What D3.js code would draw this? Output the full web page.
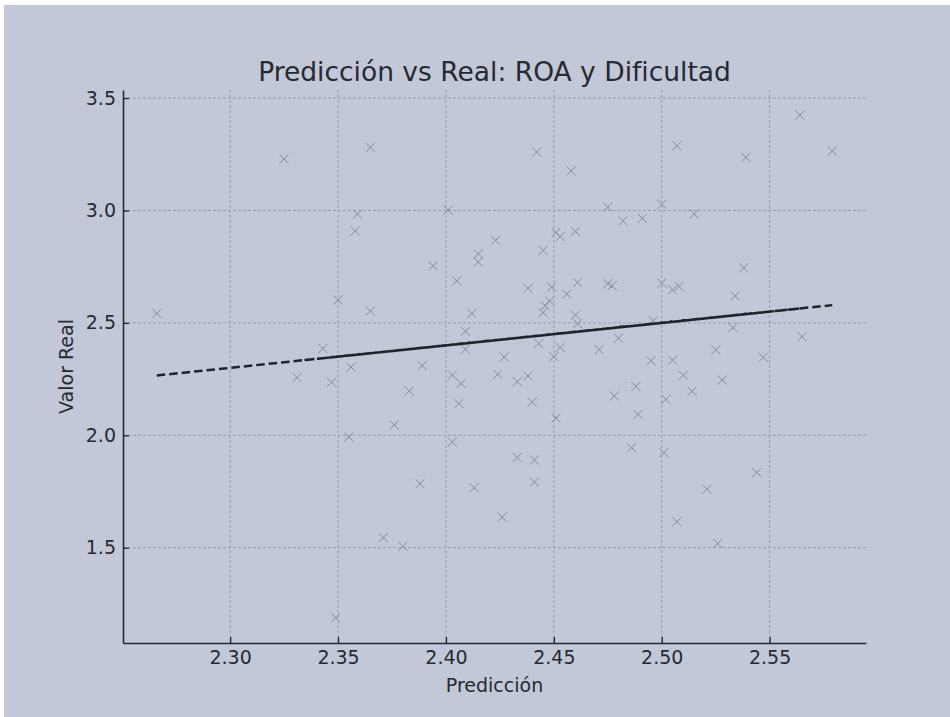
<!DOCTYPE html>
<html lang="es">
    <head>
        <meta charset="utf-8">
        <title>Predicción vs Real</title>
        <script src="https://d3js.org/d3.v7.min.js"></script>
        <style type="text/css">
            html, body { margin: 0; padding: 0; background: #ffffff; overflow: hidden; }
            svg { display: block; }
            text { font-family: "DejaVu Sans", sans-serif; fill: #262a33; }
        </style>
    </head>
    <body>
        <script>
            // data (order kept as read, the y = x line is drawn through it)
            var predicted = [2.266, 2.325, 2.427, 2.365, 2.491, 2.388, 2.453, 2.488, 2.349, 2.534,
                2.445, 2.383, 2.521, 2.405, 2.380, 2.507, 2.443, 2.331, 2.403, 2.505,
                2.445, 2.547, 2.359, 2.424, 2.486, 2.461, 2.480, 2.458, 2.441, 2.343,
                2.526, 2.475, 2.440, 2.500, 2.475, 2.471, 2.358, 2.514, 2.433, 2.415,
                2.500, 2.347, 2.505, 2.448, 2.525, 2.403, 2.365, 2.544, 2.426, 2.460,
                2.538, 2.412, 2.376, 2.355, 2.528, 2.438, 2.539, 2.409, 2.413, 2.356,
                2.489, 2.460, 2.496, 2.433, 2.401, 2.564, 2.453, 2.350, 2.482, 2.394,
                2.371, 2.502, 2.456, 2.406, 2.533, 2.451, 2.389, 2.507, 2.477, 2.441,
                2.442, 2.515, 2.415, 2.495, 2.450, 2.508, 2.449, 2.438, 2.501, 2.461,
                2.478, 2.423, 2.407, 2.451, 2.510, 2.446, 2.409, 2.565, 2.579];
            var actual = [2.542, 3.229, 2.348, 2.553, 2.965, 1.785, 2.884, 2.217, 1.188, 2.620,
                2.546, 2.197, 1.760, 2.687, 1.506, 3.288, 2.408, 2.257, 1.970, 2.647,
                2.822, 2.347, 2.984, 2.271, 1.945, 2.680, 2.432, 3.176, 1.792, 2.386,
                1.519, 2.674, 2.148, 2.677, 3.015, 2.381, 2.909, 2.196, 1.901, 2.807,
                3.027, 2.235, 2.334, 2.598, 2.380, 2.268, 3.281, 1.834, 1.636, 2.907,
                2.745, 2.542, 2.046, 1.992, 2.246, 2.654, 3.236, 2.383, 1.767, 2.303,
                2.093, 2.535, 2.509, 2.239, 3.002, 3.424, 2.390, 2.602, 2.954, 2.754,
                1.545, 2.160, 2.628, 2.141, 2.479, 2.902, 2.310, 1.616, 2.665, 1.890,
                3.260, 2.985, 2.771, 2.331, 2.350, 2.662, 2.660, 2.264, 1.923, 2.497,
                2.175, 2.867, 2.230, 2.077, 2.267, 2.576, 2.462, 2.439, 3.265];

            var xTicks = [2.30, 2.35, 2.40, 2.45, 2.50, 2.55];
            var yTicks = [1.5, 2.0, 2.5, 3.0, 3.5];

            var titleText = "Predicción vs Real: ROA y Dificultad";
            var xLabel = "Predicción";
            var yLabel = "Valor Real";

            // configuration
            var outerWidth = 950;
            var outerHeight = 717;
            var margin = { left: 123, top: 90, right: 84, bottom: 74 };
            var innerWidth = outerWidth - margin.left - margin.right;
            var innerHeight = outerHeight - margin.top - margin.bottom;

            var bgColor = "#c2c8d7";
            var inkColor = "#262a33";

            var points = predicted.map(function(p, i) { return { x: p, y: actual[i] }; });

            // matplotlib-like 5% padding on the data extent
            function padded(ext) {
                var pad = (ext[1] - ext[0]) * 0.05;
                return [ext[0] - pad, ext[1] + pad];
            }

            var xScale = d3.scaleLinear()
                .domain(padded(d3.extent(predicted)))
                .range([0, innerWidth]);
            var yScale = d3.scaleLinear()
                .domain(padded(d3.extent(actual)))
                .range([innerHeight, 0]);

            var svg = d3.select("body")
                .append("svg")
                .attr("width", outerWidth)
                .attr("height", outerHeight);

            svg.append("rect")
                .attr("x", 4)
                .attr("y", 5)
                .attr("width", outerWidth - 4)
                .attr("height", outerHeight - 5)
                .attr("fill", bgColor);

            var g = svg.append("g")
                .attr("transform", "translate(" + margin.left + "," + margin.top + ")");

            // grid
            g.selectAll(".vgrid").data(xTicks).enter().append("line")
                .attr("class", "vgrid")
                .attr("x1", function(d) { return xScale(d); })
                .attr("x2", function(d) { return xScale(d); })
                .attr("y1", 0)
                .attr("y2", innerHeight)
                .attr("stroke", "#9297a6")
                .attr("stroke-width", 0.9)
                .attr("stroke-dasharray", "3,2");

            g.selectAll(".hgrid").data(yTicks).enter().append("line")
                .attr("class", "hgrid")
                .attr("x1", 0)
                .attr("x2", innerWidth)
                .attr("y1", function(d) { return yScale(d); })
                .attr("y2", function(d) { return yScale(d); })
                .attr("stroke", "#9297a6")
                .attr("stroke-width", 0.9)
                .attr("stroke-dasharray", "3,2");

            // x markers
            g.selectAll(".pt").data(points).enter().append("path")
                .attr("class", "pt")
                .attr("transform", function(d) { return "translate(" + xScale(d.x) + "," + yScale(d.y) + ")"; })
                .attr("d", "M-4.5,-4.5L4.5,4.5M-4.5,4.5L4.5,-4.5")
                .attr("fill", "none")
                .attr("stroke", "#868b99")
                .attr("stroke-width", 1);

            // y = x reference line, drawn through the predictions in data order
            var line = d3.line()
                .x(function(d) { return xScale(d); })
                .y(function(d) { return yScale(d); });

            g.append("path")
                .datum(predicted)
                .attr("d", line)
                .attr("fill", "none")
                .attr("stroke", "#1f232b")
                .attr("stroke-width", 2.5)
                .attr("stroke-dasharray", "8.5,4");

            // axes
            var xAxis = d3.axisBottom(xScale)
                .tickValues(xTicks)
                .tickFormat(d3.format(".2f"))
                .tickSizeInner(-6)
                .tickSizeOuter(0)
                .tickPadding(7.5);

            var yAxis = d3.axisLeft(yScale)
                .tickValues(yTicks)
                .tickFormat(d3.format(".1f"))
                .tickSizeInner(-6)
                .tickSizeOuter(0)
                .tickPadding(7);

            var gx = g.append("g")
                .attr("transform", "translate(0," + innerHeight + ")")
                .call(xAxis);
            var gy = g.append("g").call(yAxis);

            [gx, gy].forEach(function(ax) {
                ax.select(".domain").attr("stroke", inkColor).attr("stroke-width", 1.6);
                ax.selectAll(".tick line").attr("stroke", inkColor).attr("stroke-width", 1.4);
                ax.selectAll(".tick text")
                    .attr("fill", inkColor)
                    .style("font-family", "DejaVu Sans")
                    .style("font-size", "19px");
            });

            // labels
            svg.append("text")
                .attr("x", margin.left + innerWidth / 2)
                .attr("y", 81)
                .attr("text-anchor", "middle")
                .style("font-size", "26.5px")
                .text(titleText);

            svg.append("text")
                .attr("x", margin.left + innerWidth / 2)
                .attr("y", 692)
                .attr("text-anchor", "middle")
                .style("font-size", "19px")
                .text(xLabel);

            svg.append("text")
                .attr("transform", "translate(73," + (margin.top + innerHeight / 2) + ") rotate(-90)")
                .attr("text-anchor", "middle")
                .style("font-size", "19px")
                .text(yLabel);
        </script>
    </body>
</html>
